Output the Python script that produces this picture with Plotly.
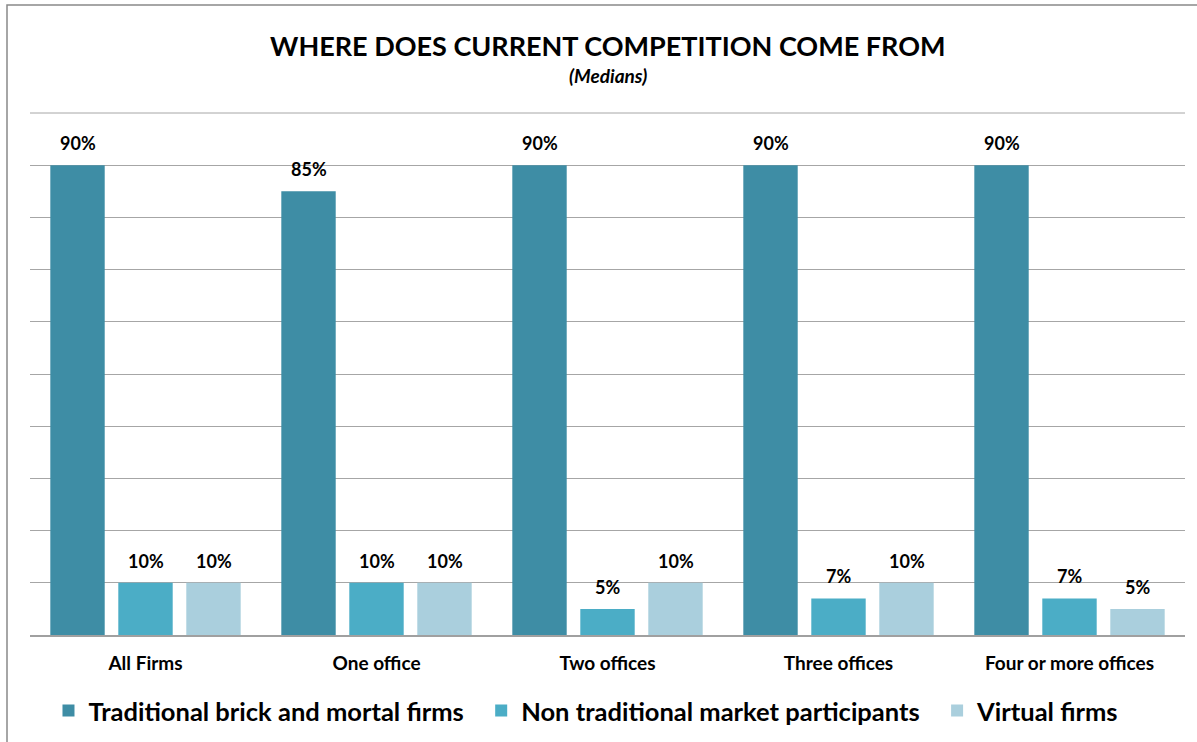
import plotly.graph_objects as go

categories = ["All Firms", "One office", "Two offices", "Three offices", "Four or more offices"]
traditional = [90, 85, 90, 90, 90]
non_traditional = [10, 10, 5, 7, 7]
virtual = [10, 10, 10, 10, 5]
series_names = ["Traditional brick and mortal firms", "Non traditional market participants", "Virtual firms"]
colors = ["#3E8DA5", "#4BADC6", "#AACFDD"]

FONT = "Lato"
W, H = 1197, 742
ml, mr, mt, mb = 30, 12, 113, 107
ph = H - mt - mb
pw = W - ml - mr
slot_px = 68  # pixel spacing between bar centres within a group

fig = go.Figure()
annotations = []
all_series = [traditional, non_traditional, virtual]
for si, (name, vals, col) in enumerate(zip(series_names, all_series, colors)):
    fig.add_trace(go.Bar(
        x=categories, y=vals, name=name + "  ",
        marker=dict(color=col, line=dict(width=0)),
    ))
    for cat, v in zip(categories, vals):
        annotations.append(dict(
            x=cat, y=v, xref="x", yref="y", text=f"<b>{v}%</b>", showarrow=False,
            xanchor="center", yanchor="bottom", xshift=(si - 1) * slot_px, yshift=9,
            font=dict(family=FONT, size=18, color="#000000")))

annotations += [
    dict(text="<b>WHERE DOES CURRENT COMPETITION COME FROM</b>", xref="paper", yref="paper",
         x=0.5, y=(H - mb - 45) / ph, xanchor="center", yanchor="middle", showarrow=False,
         font=dict(family=FONT, size=27, color="#000000")),
    dict(text="<b><i>(Medians)</i></b>", xref="paper", yref="paper",
         x=0.5, y=(H - mb - 75) / ph, xanchor="center", yanchor="middle", showarrow=False,
         font=dict(family=FONT, size=19, color="#000000")),
]

fig.update_layout(
    width=W, height=H,
    margin=dict(l=ml, r=mr, t=mt, b=mb, autoexpand=False),
    paper_bgcolor="white", plot_bgcolor="white",
    barmode="group", bargap=0.117, bargroupgap=0.2,
    font=dict(family=FONT, color="#000000"),
    showlegend=True,
    legend=dict(orientation="h", x=0.487, xanchor="center", y=-76/ph, yanchor="middle",
                font=dict(family=FONT, size=25.5, color="#000000", weight="bold"),
                itemsizing="constant", traceorder="normal"),
    xaxis=dict(showgrid=False, showline=True, linecolor="#A0A0A0", linewidth=1.5,
               tickfont=dict(family=FONT, size=19, color="#000000", weight="bold"),
               ticks="", ticklabelstandoff=10, automargin=False),
    yaxis=dict(range=[0, 100], dtick=10, showgrid=True, gridcolor="#A6A6A6", gridwidth=1,
               showticklabels=False, zeroline=False, ticks="", automargin=False),
    annotations=annotations,
    shapes=[
        dict(type="rect", xref="paper", yref="paper",
             x0=(7 - ml) / pw, x1=1.05, y0=-0.5, y1=(H - mb - 5) / ph,
             line=dict(color="#898989", width=1.5), fillcolor="rgba(0,0,0,0)", layer="above"),
        dict(type="line", xref="paper", yref="paper", x0=0, x1=1, y0=1, y1=1,
             line=dict(color="#A6A6A6", width=1)),
    ],
)

fig.write_html("out.html")
